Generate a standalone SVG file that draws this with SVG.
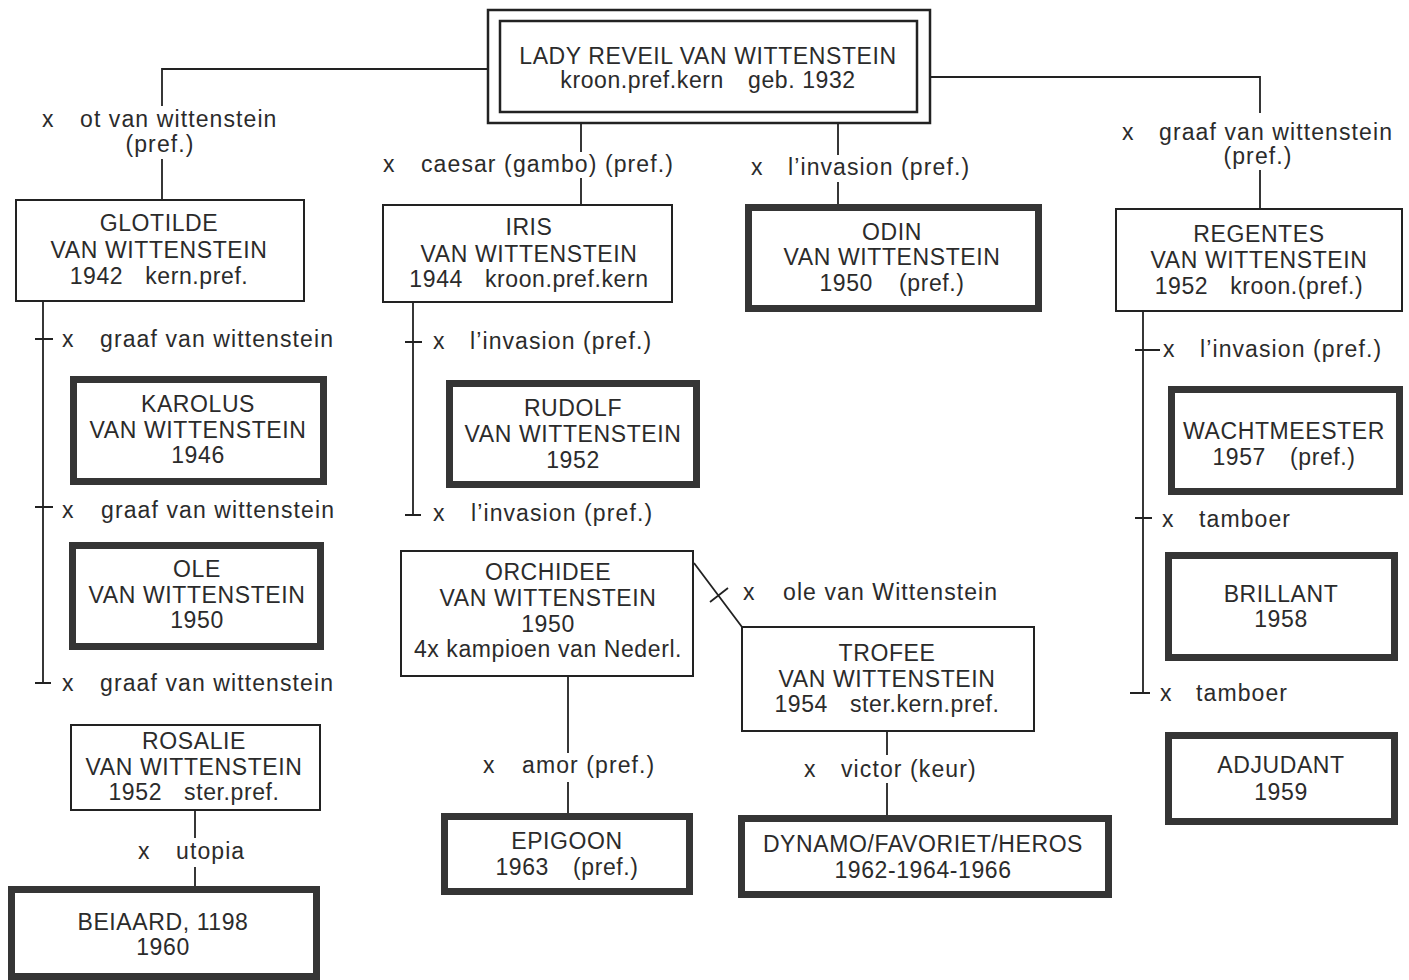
<svg xmlns="http://www.w3.org/2000/svg" width="1409" height="980" viewBox="0 0 1409 980">
<style>
text{font-family:"Liberation Sans",Arial,sans-serif;font-size:23px;fill:#2b2b2b;letter-spacing:0.6px}
#labels text{letter-spacing:1.1px}
.c{text-anchor:middle}
.thin{fill:#fff;stroke:#222;stroke-width:2}
.thick{fill:#fff;stroke:#353535;stroke-width:7}
.top{fill:#fff;stroke:#222;stroke-width:2.5}
.ln{fill:none;stroke:#222;stroke-width:1.8}
</style>
<rect width="1409" height="980" fill="#fff"/>
<g id="connectors">
<path class="ln" d="M487 69H162V106M162 159V199"/>
<path class="ln" d="M581 124V152M581 178V204"/>
<path class="ln" d="M838 124V155M838 182V204"/>
<path class="ln" d="M931 77H1260V113M1260 170V208"/>
<path class="ln" d="M43 302V683M35 339H53M35 507H53M35 683H51"/>
<path class="ln" d="M413 303V515M405 342H422M405 515H421"/>
<path class="ln" d="M1143 312V693M1135 350H1160M1135 518H1152M1130 693H1150"/>
<path class="ln" d="M195 811V838M195 867V887"/>
<path class="ln" d="M568 677V753M568 782V813"/>
<path class="ln" d="M887 732V755M887 783V815"/>
<path class="ln" d="M694 563L742 627M710 602L728 588"/>
</g>
<g id="labels">
<text x="42" y="127">x</text><text x="80" y="127">ot van wittenstein</text><text class="c" x="160" y="152">(pref.)</text>
<text x="383" y="172">x</text><text x="421" y="172">caesar (gambo) (pref.)</text>
<text x="751" y="175">x</text><text x="788" y="175">l’invasion (pref.)</text>
<text x="1122" y="140">x</text><text x="1159" y="140">graaf van wittenstein</text><text class="c" x="1258" y="164">(pref.)</text>
<text x="62" y="347">x</text><text x="100" y="347">graaf van wittenstein</text>
<text x="62" y="518">x</text><text x="101" y="518">graaf van wittenstein</text>
<text x="62" y="691">x</text><text x="100" y="691">graaf van wittenstein</text>
<text x="433" y="349">x</text><text x="470" y="349">l’invasion (pref.)</text>
<text x="433" y="521">x</text><text x="471" y="521">l’invasion (pref.)</text>
<text x="1163" y="357">x</text><text x="1200" y="357">l’invasion (pref.)</text>
<text x="1162" y="527">x</text><text x="1199" y="527">tamboer</text>
<text x="1160" y="701">x</text><text x="1196" y="701">tamboer</text>
<text x="743" y="600">x</text><text x="783" y="600">ole van Wittenstein</text>
<text x="483" y="773">x</text><text x="522" y="773">amor (pref.)</text>
<text x="804" y="777">x</text><text x="841" y="777">victor (keur)</text>
<text x="138" y="859">x</text><text x="176" y="859">utopia</text>
</g>
<g id="lady">
<rect class="top" x="488" y="10" width="442" height="113"/>
<rect class="top" x="500" y="21" width="417" height="91"/>
<text class="c" x="708" y="64">LADY REVEIL VAN WITTENSTEIN</text>
<text class="c" x="708" y="88">kroon.pref.kern<tspan dx="24">geb. 1932</tspan></text>
</g>
<g id="glotilde">
<rect class="thin" x="16" y="200" width="288" height="101"/>
<text class="c" x="159" y="231">GLOTILDE</text>
<text class="c" x="159" y="258">VAN WITTENSTEIN</text>
<text class="c" x="159" y="284">1942<tspan dx="22">kern.pref.</tspan></text>
</g>
<g id="iris">
<rect class="thin" x="383" y="205" width="289" height="97"/>
<text class="c" x="529" y="235">IRIS</text>
<text class="c" x="529" y="262">VAN WITTENSTEIN</text>
<text class="c" x="529" y="287">1944<tspan dx="22">kroon.pref.kern</tspan></text>
</g>
<g id="odin">
<rect class="thick" x="748.5" y="207.5" width="290" height="101"/>
<text class="c" x="892" y="240">ODIN</text>
<text class="c" x="892" y="265">VAN WITTENSTEIN</text>
<text class="c" x="892" y="291">1950<tspan dx="26">(pref.)</tspan></text>
</g>
<g id="regentes">
<rect class="thin" x="1116" y="209" width="286" height="102"/>
<text class="c" x="1259" y="242">REGENTES</text>
<text class="c" x="1259" y="268">VAN WITTENSTEIN</text>
<text class="c" x="1259" y="294">1952<tspan dx="22">kroon.(pref.)</tspan></text>
</g>
<g id="karolus">
<rect class="thick" x="73.5" y="379.5" width="250" height="102"/>
<text class="c" x="198" y="412">KAROLUS</text>
<text class="c" x="198" y="438">VAN WITTENSTEIN</text>
<text class="c" x="198" y="463">1946</text>
</g>
<g id="ole">
<rect class="thick" x="72.5" y="545.5" width="248" height="101"/>
<text class="c" x="197" y="577">OLE</text>
<text class="c" x="197" y="603">VAN WITTENSTEIN</text>
<text class="c" x="197" y="628">1950</text>
</g>
<g id="rosalie">
<rect class="thin" x="71" y="725" width="249" height="85"/>
<text class="c" x="194" y="749">ROSALIE</text>
<text class="c" x="194" y="775">VAN WITTENSTEIN</text>
<text class="c" x="194" y="800">1952<tspan dx="22">ster.pref.</tspan></text>
</g>
<g id="beiaard">
<rect class="thick" x="11.5" y="889.5" width="305" height="87"/>
<text class="c" x="163" y="930">BEIAARD, 1198</text>
<text class="c" x="163" y="955">1960</text>
</g>
<g id="rudolf">
<rect class="thick" x="449.5" y="383.5" width="247" height="101"/>
<text class="c" x="573" y="416">RUDOLF</text>
<text class="c" x="573" y="442">VAN WITTENSTEIN</text>
<text class="c" x="573" y="468">1952</text>
</g>
<g id="orchidee">
<rect class="thin" x="401" y="551" width="292" height="125"/>
<text class="c" x="548" y="580">ORCHIDEE</text>
<text class="c" x="548" y="606">VAN WITTENSTEIN</text>
<text class="c" x="548" y="632">1950</text>
<text class="c" x="548" y="657">4x kampioen van Nederl.</text>
</g>
<g id="trofee">
<rect class="thin" x="742" y="627" width="292" height="104"/>
<text class="c" x="887" y="661">TROFEE</text>
<text class="c" x="887" y="687">VAN WITTENSTEIN</text>
<text class="c" x="887" y="712">1954<tspan dx="22">ster.kern.pref.</tspan></text>
</g>
<g id="epigoon">
<rect class="thick" x="444.5" y="816.5" width="245" height="75"/>
<text class="c" x="567" y="849">EPIGOON</text>
<text class="c" x="567" y="875">1963<tspan dx="24">(pref.)</tspan></text>
</g>
<g id="dynamo">
<rect class="thick" x="741.5" y="818.5" width="367" height="76"/>
<text class="c" x="923" y="852">DYNAMO/FAVORIET/HEROS</text>
<text class="c" x="923" y="878">1962-1964-1966</text>
</g>
<g id="wachtmeester">
<rect class="thick" x="1171.5" y="389.5" width="228" height="102"/>
<text class="c" x="1284" y="439">WACHTMEESTER</text>
<text class="c" x="1284" y="465">1957<tspan dx="24">(pref.)</tspan></text>
</g>
<g id="brillant">
<rect class="thick" x="1168.5" y="555.5" width="226" height="102"/>
<text class="c" x="1281" y="602">BRILLANT</text>
<text class="c" x="1281" y="627">1958</text>
</g>
<g id="adjudant">
<rect class="thick" x="1168.5" y="735.5" width="226" height="86"/>
<text class="c" x="1281" y="773">ADJUDANT</text>
<text class="c" x="1281" y="800">1959</text>
</g>
</svg>
